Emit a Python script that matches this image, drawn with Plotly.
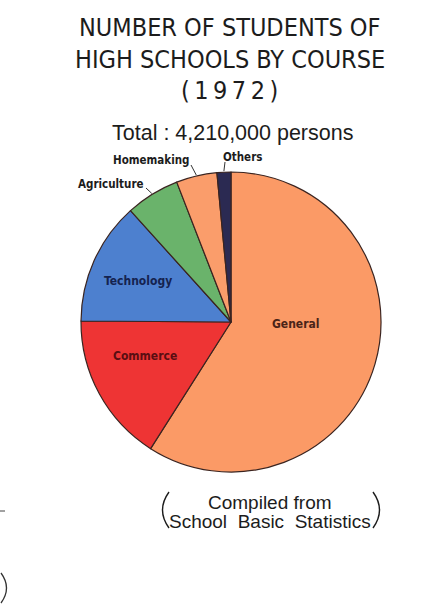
import math
import plotly.graph_objects as go

# Enrolment by course, 1972 (thousand persons)
courses = ["General", "Commerce", "Technology", "Agriculture", "Homemaking", "Others"]
students_thousand = [2484, 678, 556, 244, 185, 63]
slice_colors = ["#FB9A66", "#EE3434", "#4D80CF", "#6AB36B", "#FA9D6B", "#2B2A52"]
inside_text_colors = {"General": "#4A2418", "Commerce": "#5A0E12", "Technology": "#15234F"}

THIN = "\u2009"
title_lines = ["NUMBER OF STUDENTS OF", "HIGH SCHOOLS BY COURSE", THIN.join("(1972)")]
total_text = "Total : 4,210,000 persons"
source_lines = ["Compiled from", "School  Basic  Statistics"]

W, H = 436, 606
CX, CY, R = 231, 322, 150  # pie centre and radius in pixels

NARROW = "DejaVu Sans Condensed, Liberation Sans Narrow, sans-serif"
REGULAR = "Liberation Sans, Arial, Helvetica, sans-serif"


def px(x):
    return x / W


def py(y):
    return 1 - y / H


fig = go.Figure(
    go.Pie(
        labels=courses,
        values=students_thousand,
        sort=False,
        direction="clockwise",
        rotation=0,
        textinfo="none",
        hoverinfo="label+value+percent",
        marker=dict(colors=slice_colors, line=dict(color="#3A2420", width=1.2)),
        domain=dict(x=[px(CX - R), px(CX + R)], y=[py(CY + R), py(CY - R)]),
        showlegend=False,
    )
)

annotations = []
shapes = []

# Title block
for text, y in zip(title_lines, [27, 59, 90]):
    annotations.append(dict(text=text, x=px(230), y=py(y), font=dict(family=NARROW, size=25, color="#1C1C1C")))
annotations.append(dict(text=total_text, x=px(232), y=py(133), font=dict(family=REGULAR, size=21.5, color="#1C1C1C")))

# Labels written inside the large slices
inside_pos = {"General": (296, 324), "Commerce": (145, 356), "Technology": (138, 281)}
for name, (x, y) in inside_pos.items():
    annotations.append(dict(text=f"<b>{name}</b>", x=px(x), y=py(y),
                            font=dict(family=NARROW, size=12, color=inside_text_colors[name])))

# Small slices: label outside with a short leader line to the rim
total = sum(students_thousand)
cum = 0
mid_angle = {}
for name, v in zip(courses, students_thousand):
    mid_angle[name] = (cum + v / 2) / total * 360
    cum += v

outside = {
    # name: (text centre x, y, leader start x, y)
    "Homemaking": (151, 160, 191, 165),
    "Agriculture": (111, 184, 146, 188),
    "Others": (242, 157, 225, 162),
}
for name, (tx, ty, lx, ly) in outside.items():
    annotations.append(dict(text=f"<b>{name}</b>", x=px(tx), y=py(ty),
                            font=dict(family=NARROW, size=11.5, color="#1C1C1C")))
    a = math.radians(mid_angle[name])
    rim_x = CX + (R + 1) * math.sin(a)
    rim_y = CY - (R + 1) * math.cos(a)
    shapes.append(dict(type="line", xref="paper", yref="paper",
                       x0=px(lx), y0=py(ly), x1=px(rim_x), y1=py(rim_y),
                       line=dict(color="#333333", width=1)))

# Source note with tall thin parentheses
annotations.append(dict(text=source_lines[0], x=px(270), y=py(502), font=dict(family=REGULAR, size=19, color="#1C1C1C")))
annotations.append(dict(text=source_lines[1], x=px(270), y=py(521), font=dict(family=REGULAR, size=19, color="#1C1C1C")))
shapes.append(dict(type="path", xref="paper", yref="paper",
                   path=f"M {px(169)} {py(492)} Q {px(156)} {py(510)} {px(169)} {py(528)}",
                   line=dict(color="#1C1C1C", width=1.4)))
shapes.append(dict(type="path", xref="paper", yref="paper",
                   path=f"M {px(373)} {py(492)} Q {px(386)} {py(510)} {px(373)} {py(528)}",
                   line=dict(color="#1C1C1C", width=1.4)))

# Fragments of the neighbouring page at the left edge
shapes.append(dict(type="line", xref="paper", yref="paper", x0=0, y0=py(511), x1=px(5), y1=py(511),
                   line=dict(color="#444444", width=1)))
shapes.append(dict(type="path", xref="paper", yref="paper",
                   path=f"M {px(1)} {py(573)} Q {px(12)} {py(588)} {px(1)} {py(603)}",
                   line=dict(color="#333333", width=1.3)))

for a in annotations:
    a.update(xref="paper", yref="paper", showarrow=False, xanchor="center", yanchor="middle")

fig.update_layout(
    width=W, height=H,
    margin=dict(l=0, r=0, t=0, b=0),
    paper_bgcolor="white", plot_bgcolor="white",
    annotations=annotations, shapes=shapes,
)

fig.write_html("out.html")
